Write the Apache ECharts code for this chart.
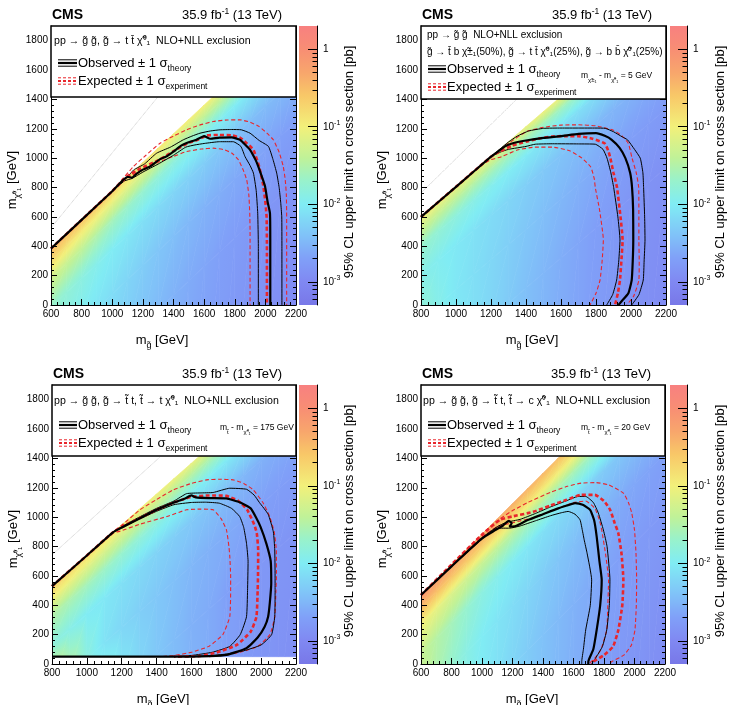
<!DOCTYPE html>
<html>
<head>
<meta charset="utf-8">
<script src="https://cdn.jsdelivr.net/npm/echarts@6.0.0/dist/echarts.min.js"></script>
<style>
html, body { margin: 0; padding: 0; background: #fff; }
#chart { width: 739px; height: 705px; }
</style>
</head>
<body>
<div id="chart"></div>
<script>
// ---- values ----
// heat map: log10 of the limit (pb), per gluino-mass column, at fixed distances (GeV) below the kinematic edge
const edgeOffsets = [0, 80, 200, 400, 700, 1100, 2300];

const p1Cols = [600, 700, 800, 900, 1000, 1100, 1200, 1300, 1400, 1500, 1600, 1700, 1800, 1900, 2000, 2100, 2200];
const p1Limit = [
  [-0.45, -0.5, -0.55, -0.62, -0.7, -0.78, -0.85, -0.9, -0.95, -0.98, -1.0, -1.02, -1.05, -1.05, -1.05, -1.05, -1.05],
  [-0.75, -0.85, -0.95, -1.02, -1.1, -1.17, -1.23, -1.28, -1.33, -1.37, -1.4, -1.43, -1.45, -1.47, -1.5, -1.5, -1.5],
  [-1.25, -1.33, -1.4, -1.5, -1.6, -1.67, -1.73, -1.79, -1.84, -1.88, -1.92, -1.96, -2.0, -2.05, -2.1, -2.12, -2.15],
  [-1.7, -1.78, -1.85, -1.93, -2.0, -2.06, -2.12, -2.17, -2.22, -2.26, -2.3, -2.35, -2.4, -2.43, -2.46, -2.48, -2.5],
  [-1.85, -1.93, -2.0, -2.08, -2.15, -2.22, -2.3, -2.37, -2.43, -2.49, -2.54, -2.58, -2.62, -2.65, -2.68, -2.7, -2.72],
  [-1.95, -2.05, -2.12, -2.2, -2.25, -2.32, -2.4, -2.47, -2.54, -2.6, -2.65, -2.7, -2.74, -2.78, -2.81, -2.84, -2.86],
  [-2.1, -2.2, -2.3, -2.38, -2.45, -2.52, -2.58, -2.63, -2.68, -2.73, -2.78, -2.83, -2.88, -2.92, -2.96, -2.99, -3.02]
];
const p2Cols = [800, 900, 1000, 1100, 1200, 1300, 1400, 1500, 1600, 1700, 1800, 1900, 2000, 2100, 2200];
const p2Limit = [
  [-1.0, -1.05, -1.08, -1.1, -1.1, -1.1, -1.08, -1.05, -1.05, -1.05, -1.05, -1.05, -1.05, -1.05, -1.05],
  [-1.3, -1.38, -1.43, -1.48, -1.52, -1.55, -1.58, -1.6, -1.62, -1.64, -1.66, -1.68, -1.7, -1.72, -1.74],
  [-1.7, -1.77, -1.83, -1.89, -1.94, -1.99, -2.03, -2.07, -2.1, -2.13, -2.16, -2.2, -2.24, -2.28, -2.32],
  [-1.9, -1.97, -2.04, -2.1, -2.16, -2.22, -2.28, -2.34, -2.39, -2.44, -2.48, -2.52, -2.55, -2.58, -2.6],
  [-1.78, -1.92, -2.05, -2.13, -2.2, -2.28, -2.36, -2.43, -2.5, -2.56, -2.62, -2.67, -2.72, -2.75, -2.78],
  [-1.7, -1.85, -2.0, -2.12, -2.22, -2.32, -2.42, -2.5, -2.58, -2.65, -2.72, -2.78, -2.83, -2.87, -2.9],
  [-1.7, -1.85, -2.0, -2.12, -2.25, -2.36, -2.46, -2.55, -2.63, -2.7, -2.77, -2.83, -2.88, -2.93, -2.97]
];
const p3Cols = [800, 900, 1000, 1100, 1200, 1300, 1400, 1500, 1600, 1700, 1800, 1900, 2000, 2100, 2200];
const p3Limit = [
  [-0.65, -0.75, -0.82, -0.88, -0.93, -0.98, -1.02, -1.05, -1.08, -1.1, -1.1, -1.1, -1.1, -1.1, -1.1],
  [-1.0, -1.08, -1.15, -1.22, -1.28, -1.33, -1.38, -1.43, -1.48, -1.52, -1.55, -1.58, -1.6, -1.62, -1.64],
  [-1.5, -1.55, -1.6, -1.66, -1.72, -1.78, -1.84, -1.9, -1.95, -2.0, -2.05, -2.1, -2.14, -2.18, -2.2],
  [-1.8, -1.9, -2.0, -2.05, -2.12, -2.18, -2.24, -2.29, -2.34, -2.39, -2.44, -2.5, -2.55, -2.58, -2.6],
  [-1.0, -1.4, -1.85, -2.1, -2.2, -2.28, -2.35, -2.42, -2.5, -2.55, -2.6, -2.65, -2.7, -2.73, -2.75],
  [-1.0, -1.2, -1.5, -1.7, -2.0, -2.2, -2.35, -2.45, -2.55, -2.6, -2.7, -2.75, -2.8, -2.83, -2.85],
  [-1.0, -1.2, -1.5, -1.7, -2.0, -2.2, -2.3, -2.4, -2.5, -2.6, -2.7, -2.8, -2.85, -2.9, -2.95]
];
const p4Cols = [600, 700, 800, 900, 1000, 1100, 1200, 1300, 1400, 1500, 1600, 1700, 1800, 1900, 2000, 2100, 2200];
const p4Limit = [
  [-0.15, -0.2, -0.25, -0.29, -0.32, -0.35, -0.38, -0.42, -0.45, -0.5, -0.55, -0.6, -0.65, -0.7, -0.7, -0.7, -0.7],
  [-0.45, -0.5, -0.55, -0.6, -0.65, -0.69, -0.72, -0.76, -0.8, -0.85, -0.9, -0.98, -1.05, -1.1, -1.15, -1.18, -1.2],
  [-1.0, -1.1, -1.2, -1.28, -1.35, -1.4, -1.45, -1.49, -1.52, -1.55, -1.57, -1.6, -1.65, -1.7, -1.75, -1.8, -1.85],
  [-1.35, -1.48, -1.6, -1.72, -1.85, -1.93, -2.0, -2.06, -2.12, -2.17, -2.22, -2.27, -2.32, -2.36, -2.4, -2.44, -2.48],
  [-1.35, -1.55, -1.72, -1.88, -2.0, -2.08, -2.15, -2.22, -2.3, -2.37, -2.43, -2.49, -2.55, -2.6, -2.64, -2.67, -2.7],
  [-1.35, -1.55, -1.75, -1.9, -2.02, -2.12, -2.22, -2.31, -2.4, -2.47, -2.54, -2.6, -2.66, -2.71, -2.75, -2.78, -2.81],
  [-1.35, -1.55, -1.75, -1.9, -2.05, -2.15, -2.25, -2.35, -2.45, -2.53, -2.61, -2.69, -2.76, -2.83, -2.88, -2.93, -2.97]
];

// kinematic edge of the scanned region (two points), dotted guide line
const p1Edge = [[600, 385], [1660, 1420]];
const p2Edge = [[800, 600], [1600, 1420]];
const p3Edge = [[800, 530], [1650, 1420]];
const p4Edge = [[600, 470], [1516, 1420]];
const p1Guide = [[600, 525], [1300, 1420]];
const p2Guide = [[800, 763], [1363, 1420]];
const p3Guide = [[800, 743], [1420, 1410]];

// exclusion contours
const p1Obs = [[600,385],[800,580],[1000,775],[1100,872],[1130,868],[1160,895],[1200,922],[1250,945],[1312,993],[1360,1015],[1400,1045],[1450,1085],[1490,1105],[1550,1125],[1600,1150],[1640,1132],[1700,1140],[1780,1142],[1834,1125],[1870,1090],[1900,1057],[1935,990],[1954,943],[1985,850],[1998,807],[2015,700],[2030,625],[2032,450],[2032,200],[2032,0]];
const p1ObsUp = [[600,385],[800,580],[1000,775],[1100,872],[1140,920],[1210,960],[1290,1034],[1380,1075],[1464,1125],[1520,1150],[1573,1170],[1640,1185],[1704,1193],[1780,1195],[1843,1193],[1900,1170],[1960,1120],[2020,1080],[2050,990],[2074,898],[2090,800],[2100,700],[2107,600],[2108,400],[2108,0]];
const p1ObsDown = [[600,385],[800,580],[1000,775],[1080,845],[1130,862],[1200,905],[1300,960],[1400,1020],[1480,1075],[1540,1090],[1600,1100],[1700,1112],[1791,1112],[1840,1080],[1867,1011],[1900,950],[1922,898],[1940,780],[1950,625],[1954,400],[1954,0]];
const p1Exp = [[600,385],[800,580],[1000,775],[1100,878],[1181,928],[1300,985],[1400,1048],[1500,1105],[1560,1125],[1617,1155],[1700,1158],[1780,1155],[1834,1140],[1880,1100],[1922,1057],[1960,940],[1985,820],[2000,700],[2008,600],[2010,400],[2010,0]];
const p1ExpUp = [[600,385],[800,580],[1000,780],[1060,850],[1140,945],[1220,1020],[1312,1102],[1400,1150],[1486,1193],[1570,1225],[1660,1250],[1750,1260],[1834,1261],[1900,1245],[1960,1215],[2010,1170],[2052,1125],[2090,1040],[2117,943],[2130,850],[2137,750],[2139,602],[2139,300],[2139,0]];
const p1ExpDown = [[600,385],[800,580],[1000,775],[1072,846],[1120,880],[1181,909],[1250,945],[1312,977],[1400,1012],[1486,1045],[1580,1062],[1660,1068],[1730,1058],[1780,1035],[1824,989],[1855,920],[1878,852],[1892,750],[1898,625],[1900,500],[1900,0]];

const p2Obs = [[800,600],[1000,805],[1200,1010],[1240,1045],[1280,1080],[1320,1100],[1400,1120],[1500,1138],[1600,1150],[1700,1165],[1800,1170],[1850,1152],[1890,1125],[1935,1070],[1968,1000],[1995,900],[2006,800],[2012,650],[2013,443],[2010,300],[2004,170],[1985,80],[1950,30],[1928,0]];
const p2ObsUp = [[800,600],[1000,805],[1200,1010],[1250,1061],[1300,1110],[1350,1150],[1415,1185],[1500,1203],[1600,1205],[1700,1205],[1800,1205],[1853,1203],[1900,1180],[1950,1145],[1980,1125],[2020,1060],[2053,1000],[2068,900],[2072,800],[2078,600],[2080,443],[2075,300],[2070,170],[2045,70],[2004,0]];
const p2ObsDown = [[800,600],[1000,805],[1200,1010],[1250,1040],[1300,1060],[1400,1080],[1453,1095],[1550,1098],[1700,1097],[1796,1095],[1840,1060],[1863,1000],[1885,900],[1901,800],[1925,600],[1937,443],[1930,300],[1918,170],[1895,70],[1861,0]];
const p2Exp = [[800,600],[1000,805],[1200,1010],[1250,1045],[1320,1085],[1400,1112],[1480,1135],[1550,1148],[1620,1150],[1700,1150],[1780,1132],[1850,1100],[1870,1050],[1882,1000],[1900,900],[1920,800],[1940,600],[1952,443],[1945,300],[1937,170],[1925,80],[1909,0]];
const p2ExpUp = [[800,600],[1000,805],[1200,1010],[1250,1050],[1300,1100],[1400,1180],[1500,1210],[1600,1225],[1700,1227],[1800,1220],[1900,1190],[1950,1150],[1985,1100],[2006,1000],[2030,900],[2044,800],[2045,600],[2045,443],[2047,300],[2045,170],[2015,60],[1975,0]];
const p2ExpDown = [[800,600],[1000,805],[1150,955],[1200,990],[1260,1010],[1350,1055],[1450,1075],[1550,1075],[1650,1050],[1720,1000],[1770,940],[1790,860],[1796,800],[1820,650],[1842,443],[1835,300],[1823,170],[1800,80],[1766,0]];

const p3Obs = [[800,530],[1000,739],[1150,897],[1200,930],[1300,990],[1400,1050],[1500,1100],[1560,1125],[1600,1148],[1625,1135],[1700,1130],[1800,1128],[1880,1100],[1940,1060],[1970,1000],[1996,936],[2030,820],[2055,700],[2058,550],[2050,420],[2040,322],[2020,254],[1980,180],[1916,108],[1801,62],[1700,53],[1600,50],[800,50]];
const p3ObsUp = [[800,530],[1000,739],[1150,897],[1200,935],[1300,1000],[1400,1060],[1500,1110],[1572,1160],[1650,1165],[1725,1168],[1820,1197],[1916,1190],[1960,1150],[1990,1100],[2040,1020],[2070,900],[2078,777],[2080,600],[2080,500],[2078,322],[2060,200],[2000,130],[1900,90],[1800,68],[1700,55],[1600,50]];
const p3ObsDown = [[800,530],[1000,739],[1150,897],[1200,925],[1300,985],[1400,1040],[1500,1085],[1600,1100],[1680,1102],[1760,1095],[1830,1060],[1877,1004],[1900,930],[1916,822],[1925,700],[1922,500],[1916,322],[1880,200],[1820,120],[1720,80],[1600,58],[1500,50]];
const p3Exp = [[800,530],[1000,739],[1150,897],[1200,935],[1300,992],[1400,1050],[1500,1100],[1600,1138],[1700,1148],[1800,1145],[1870,1110],[1920,1050],[1960,950],[1975,891],[1983,777],[1982,600],[1980,500],[1973,322],[1940,220],[1860,130],[1750,80],[1650,55],[1500,50]];
const p3ExpUp = [[800,530],[1000,739],[1150,897],[1200,945],[1305,1050],[1400,1120],[1496,1186],[1600,1230],[1687,1254],[1760,1258],[1840,1254],[1900,1230],[1954,1186],[2010,1100],[2049,1004],[2075,900],[2087,777],[2088,600],[2085,500],[2078,322],[2050,200],[1980,120],[1880,80],[1780,60],[1700,50]];
const p3ExpDown = [[800,530],[1000,739],[1150,890],[1191,905],[1305,952],[1458,1004],[1572,1050],[1650,1055],[1725,1050],[1770,990],[1801,914],[1815,800],[1820,736],[1825,600],[1825,500],[1820,322],[1780,200],[1700,120],[1600,80],[1500,58],[1420,50]];

const p4Obs = [[600,470],[800,665],[1000,855],[1090,913],[1140,945],[1175,975],[1195,960],[1180,935],[1220,940],[1300,980],[1400,1020],[1500,1060],[1560,1080],[1610,1096],[1660,1085],[1709,1050],[1735,980],[1752,868],[1770,700],[1785,573],[1775,400],[1752,232],[1730,100],[1697,16],[1697,0]];
const p4ObsUp = [[600,470],[800,668],[1000,860],[1100,935],[1160,965],[1250,985],[1350,1025],[1450,1070],[1550,1110],[1630,1141],[1680,1141],[1730,1100],[1763,1028],[1796,913],[1820,800],[1839,573],[1835,400],[1818,232],[1790,120],[1745,40],[1719,0]];
const p4ObsDown = [[600,470],[800,662],[1000,850],[1100,925],[1180,925],[1250,940],[1350,975],[1450,1010],[1520,1030],[1565,1039],[1610,1020],[1643,982],[1660,900],[1670,846],[1690,750],[1719,573],[1710,400],[1680,232],[1665,100],[1654,16],[1654,0]];
const p4Exp = [[600,470],[800,677],[1000,880],[1118,982],[1200,1005],[1335,1036],[1450,1080],[1555,1118],[1650,1152],[1740,1152],[1800,1110],[1840,1050],[1870,960],[1894,891],[1915,750],[1927,573],[1920,400],[1894,232],[1860,120],[1800,60],[1730,16],[1720,0]];
const p4ExpUp = [[600,470],[800,677],[1000,885],[1100,975],[1196,1042],[1300,1100],[1450,1170],[1560,1210],[1650,1232],[1750,1235],[1830,1220],[1927,1164],[1960,1100],[1982,1028],[2000,913],[2010,750],[2014,573],[2012,400],[2003,232],[1980,130],[1930,60],[1850,16],[1839,0]];
const p4ExpDown = [[600,470],[800,670],[1000,865],[1100,935],[1200,962],[1350,1000],[1450,1040],[1550,1080],[1600,1100],[1680,1110],[1740,1060],[1770,980],[1785,913],[1810,750],[1830,573],[1825,400],[1818,232],[1780,100],[1740,40],[1700,0]];

// colour bar labels (log10 pb)
const cbTicks = [-3, -2, -1, 0];

// ---- drawing ----
const FONT = '"Liberation Sans", Arial, Helvetica, sans-serif';
const RED = '#e8262c';
const LOG_MIN = -3.3, LOG_MAX = 0.3;

const palStops = [
  [-3.3, [120, 120, 232]],
  [-3.0, [128, 136, 242]],
  [-2.7, [128, 160, 248]],
  [-2.4, [128, 194, 248]],
  [-2.0, [128, 236, 244]],
  [-1.7, [152, 242, 204]],
  [-1.4, [192, 242, 152]],
  [-1.0, [242, 240, 122]],
  [-0.6, [248, 200, 104]],
  [-0.3, [248, 166, 108]],
  [0.0, [248, 142, 116]],
  [0.3, [248, 128, 128]]
];
function rgb(c) { return 'rgb(' + c.map(Math.round).join(',') + ')'; }
function palette(v) {
  if (v <= palStops[0][0]) return rgb(palStops[0][1]);
  for (let i = 1; i < palStops.length; i++) {
    if (v <= palStops[i][0]) {
      const a = palStops[i - 1], b = palStops[i];
      const t = (v - a[0]) / (b[0] - a[0]);
      return rgb(a[1].map((c, k) => c + (b[1][k] - c) * t));
    }
  }
  return rgb(palStops[palStops.length - 1][1]);
}

function edgeY(p, x) {
  const a = p.edge[0], b = p.edge[1];
  return a[1] + (x - a[0]) * (b[1] - a[1]) / (b[0] - a[0]);
}
// keep the part of a polygon above y = f
function clipFloor(poly, f) {
  const out = [];
  for (let i = 0; i < poly.length; i++) {
    const a = poly[i], b = poly[(i + 1) % poly.length];
    const ina = a[1] >= f, inb = b[1] >= f;
    if (ina) out.push(a);
    if (ina !== inb) {
      const t = (f - a[1]) / (b[1] - a[1]);
      out.push([a[0] + t * (b[0] - a[0]), f]);
    }
  }
  return out;
}

// one shaded triangle: corners in data space, values at the corners
function shadedTri(api, floor, c, v) {
  const poly = clipFloor(c, floor);
  if (poly.length < 3) return null;
  const P = c.map(q => api.coord(q));
  const e1x = P[1][0] - P[0][0], e1y = P[1][1] - P[0][1];
  const e2x = P[2][0] - P[0][0], e2y = P[2][1] - P[0][1];
  const dv1 = v[1] - v[0], dv2 = v[2] - v[0];
  const det = e1x * e2y - e1y * e2x;
  let fill;
  const gx = det ? (dv1 * e2y - dv2 * e1y) / det : 0;
  const gy = det ? (e1x * dv2 - e2x * dv1) / det : 0;
  const g2 = gx * gx + gy * gy;
  if (g2 < 1e-12) {
    fill = palette(v[0]);
  } else {
    const lo = Math.min(v[0], v[1], v[2]), hi = Math.max(v[0], v[1], v[2]);
    const stops = [];
    for (let k = 0; k <= 6; k++) stops.push({offset: k / 6, color: palette(lo + (hi - lo) * k / 6)});
    fill = {type: 'linear', global: true, colorStops: stops,
      x: P[0][0] + gx * (lo - v[0]) / g2, y: P[0][1] + gy * (lo - v[0]) / g2,
      x2: P[0][0] + gx * (hi - v[0]) / g2, y2: P[0][1] + gy * (hi - v[0]) / g2};
  }
  return {type: 'polygon', shape: {points: poly.map(q => api.coord(q))},
    style: {fill: fill, stroke: fill, lineWidth: 0.7}};
}

const panels = [
  {box: [51, 26, 245, 279], cbar: [299, 26, 18, 279], xMin: 600, floor: 0, cols: p1Cols, lim: p1Limit, edge: p1Edge, guide: p1Guide,
   curves: [p1ExpUp, p1ExpDown, p1ObsUp, p1ObsDown, p1Exp, p1Obs], boxH: 71, obsDy: 37, expDy: 55, symX: [7, 26], txtDx: 27,
   head: [[3, 15, '{h|pp → g̃ g̃, g̃ → t t̄ χ̃⁰₁  NLO+NLL exclusion}']], note: null},
  {box: [421, 26, 245, 279], cbar: [670, 26, 17, 279], xMin: 800, floor: 0, cols: p2Cols, lim: p2Limit, edge: p2Edge, guide: p2Guide,
   curves: [p2ExpUp, p2ExpDown, p2ObsUp, p2ObsDown, p2Exp, p2Obs], boxH: 73, obsDy: 43, expDy: 61, symX: [7, 25], txtDx: 26,
   head: [[6, 9, '{g|pp → g̃ g̃  NLO+NLL exclusion}'], [6, 26, '{g|g̃ → t̄ b χ̃±₁(50%), g̃ → t t̄ χ̃⁰₁(25%), g̃ → b b̄ χ̃⁰₁(25%)}']],
   note: [160, 50, '{n|m}{ns|χ̃±₁}{n| - m}{ns|χ̃⁰₁}{n| = 5 GeV}']},
  {box: [52, 385, 244, 279], cbar: [299, 385, 18, 279], xMin: 800, floor: 50, cols: p3Cols, lim: p3Limit, edge: p3Edge, guide: p3Guide,
   curves: [p3ExpUp, p3ExpDown, p3ObsUp, p3ObsDown, p3Exp, p3Obs], boxH: 71, obsDy: 40, expDy: 58, symX: [7, 25], txtDx: 26,
   head: [[2, 16, '{h|pp → g̃ g̃, g̃ → t̃ t, t̃ → t χ̃⁰₁  NLO+NLL exclusion}']],
   note: [168, 43, '{n|m}{ns|t̃}{n| - m}{ns|χ̃⁰₁}{n| = 175 GeV}']},
  {box: [421, 385, 244, 279], cbar: [670, 385, 17, 279], xMin: 600, floor: 0, cols: p4Cols, lim: p4Limit, edge: p4Edge, guide: null,
   curves: [p4ExpUp, p4ExpDown, p4ObsUp, p4ObsDown, p4Exp, p4Obs], boxH: 71, obsDy: 40, expDy: 58, symX: [7, 25], txtDx: 26,
   head: [[2, 16, '{h|pp → g̃ g̃, g̃ → t̃ t, t̃ → c χ̃⁰₁  NLO+NLL exclusion}']],
   note: [160, 43, '{n|m}{ns|t̃}{n| - m}{ns|χ̃⁰₁}{n| = 20 GeV}']}
];

const curveStyles = [
  {color: RED, width: 1.1, type: [4, 2.5]},
  {color: RED, width: 1.1, type: [4, 2.5]},
  {color: '#000', width: 1, type: 'solid'},
  {color: '#000', width: 1, type: 'solid'},
  {color: RED, width: 2.6, type: [4, 2.5]},
  {color: '#000', width: 2.2, type: 'solid'}
];

const tok = (size, extra) => Object.assign({fontSize: size, fontFamily: FONT, fill: '#000'}, extra || {});
const RICH = {
  h: tok(10.6, {lineHeight: 14}),
  g: tok(10, {lineHeight: 14}),
  L: tok(13, {lineHeight: 20}),
  Ls: tok(8.5, {verticalAlign: 'bottom'}),
  n: tok(8.5, {lineHeight: 14}),
  ns: tok(6, {verticalAlign: 'bottom'}),
  A: tok(13, {lineHeight: 20}),
  As: tok(9, {verticalAlign: 'bottom'}),
  B: tok(13, {lineHeight: 16}),
  Bs: tok(8.5, {verticalAlign: 'top'}),
  C: tok(13, {lineHeight: 16})
};

const grids = [], xAxes = [], yAxes = [], series = [], graphics = [];

function text(x, y, str, align, rot) {
  graphics.push({type: 'text', x: x, y: y, rotation: rot || 0, z: 120, silent: true,
    style: {legacy: false, text: str, rich: RICH, fill: '#000', font: '10px ' + FONT,
            align: align || 'left', verticalAlign: 'middle'}});
}
function seg(x1, y1, x2, y2, color, width, dash) {
  graphics.push({type: 'line', z: 120, silent: true, shape: {x1: x1, y1: y1, x2: x2, y2: y2},
    style: {stroke: color, lineWidth: width, lineDash: dash || null}});
}

const axisBase = {
  type: 'value', z: 10,
  axisLine: {show: true, onZero: false, lineStyle: {color: '#000', width: 1}},
  axisTick: {show: true, inside: true, length: 6, lineStyle: {color: '#000', width: 1}},
  minorTick: {show: true, splitNumber: 5, length: 3, lineStyle: {color: '#000', width: 1}},
  splitLine: {show: false}, minorSplitLine: {show: false}
};

const cbMinor = [];
for (let e = -4; e <= 0; e++) for (let k = 2; k <= 9; k++) {
  const v = Math.log10(k) + e;
  if (v > LOG_MIN && v < LOG_MAX) cbMinor.push(v);
}
const cbStops = [];
for (let k = 0; k <= 36; k++) {
  const v = LOG_MAX - (LOG_MAX - LOG_MIN) * k / 36;
  cbStops.push({offset: k / 36, color: palette(v)});
}

panels.forEach(p => {
  const [L, T, W, H] = p.box;
  const gi = grids.length;
  grids.push({left: L, top: T, width: W, height: H, outerBoundsMode: 'none'});
  const xi = xAxes.length;
  xAxes.push(Object.assign({}, axisBase, {gridIndex: gi, min: p.xMin, max: 2200, interval: 200, position: 'bottom',
    axisLabel: {color: '#000', fontSize: 10, fontFamily: FONT, margin: 4, formatter: v => String(v)}}));
  const yi = yAxes.length;
  yAxes.push(Object.assign({}, axisBase, {gridIndex: gi, min: 0, max: 1900, interval: 200, position: 'left',
    axisLabel: {color: '#000', fontSize: 10, fontFamily: FONT, margin: 3, showMaxLabel: false, formatter: v => String(v)}}));
  yAxes.push(Object.assign({}, axisBase, {gridIndex: gi, min: 0, max: 1900, interval: 200, position: 'right',
    axisLabel: {show: false}}));

  // heat map: quads between neighbouring columns and edge offsets, each split in two shaded triangles
  const cells = [];
  for (let i = 0; i < p.cols.length - 1; i++) {
    for (let j = 0; j < edgeOffsets.length - 1; j++) {
      cells.push([p.cols[i], p.cols[i + 1], edgeOffsets[j], edgeOffsets[j + 1],
        p.lim[j][i], p.lim[j][i + 1], p.lim[j + 1][i], p.lim[j + 1][i + 1]]);
    }
  }
  series.push({
    type: 'custom', xAxisIndex: xi, yAxisIndex: yi, clip: true, silent: true, z: 1, data: cells,
    renderItem: function (params, api) {
      const xa = api.value(0), xb = api.value(1), d0 = api.value(2), d1 = api.value(3);
      const c00 = [xa, edgeY(p, xa) - d0], c10 = [xb, edgeY(p, xb) - d0];
      const c01 = [xa, edgeY(p, xa) - d1], c11 = [xb, edgeY(p, xb) - d1];
      const v00 = api.value(4), v10 = api.value(5), v01 = api.value(6), v11 = api.value(7);
      const kids = [
        shadedTri(api, p.floor, [c00, c10, c01], [v00, v10, v01]),
        shadedTri(api, p.floor, [c10, c11, c01], [v10, v11, v01])
      ].filter(Boolean);
      return {type: 'group', children: kids};
    }
  });

  if (p.guide) {
    series.push({type: 'line', xAxisIndex: xi, yAxisIndex: yi, data: p.guide, showSymbol: false, symbol: 'none',
      silent: true, z: 2, lineStyle: {color: '#b8b8b8', width: 0.8, type: 'dotted'}});
  }
  p.curves.forEach((c, k) => {
    const s = curveStyles[k];
    series.push({type: 'line', xAxisIndex: xi, yAxisIndex: yi, data: c, showSymbol: false, symbol: 'none',
      smooth: 0.15, silent: true, z: 3 + k, lineStyle: {color: s.color, width: s.width, type: s.type}});
  });

  // colour bar
  const [cl, ct, cw, ch] = p.cbar;
  const cg = grids.length;
  grids.push({left: cl, top: ct, width: cw, height: ch, outerBoundsMode: 'none'});
  const cxi = xAxes.length;
  xAxes.push({gridIndex: cg, type: 'value', min: 0, max: 1, show: false});
  const cyi = yAxes.length;
  yAxes.push({gridIndex: cg, type: 'value', min: LOG_MIN, max: LOG_MAX, position: 'right', z: 10,
    axisLine: {show: true, onZero: false, lineStyle: {color: '#000', width: 1}},
    axisTick: {show: true, inside: true, length: 9, customValues: cbTicks, lineStyle: {color: '#000'}},
    splitLine: {show: false},
    axisLabel: {customValues: cbTicks, margin: 6, color: '#000', fontSize: 10, fontFamily: FONT,
      formatter: v => (v === 0 ? '1' : '{b|10}{s|' + v + '}'),
      rich: {b: {fontSize: 10, fontFamily: FONT, color: '#000', lineHeight: 14},
             s: {fontSize: 7, fontFamily: FONT, color: '#000', verticalAlign: 'top', lineHeight: 9}}}});
  yAxes.push({gridIndex: cg, type: 'value', min: LOG_MIN, max: LOG_MAX, position: 'right', z: 10,
    axisLine: {show: false, onZero: false},
    axisTick: {show: true, inside: true, length: 4.5, customValues: cbMinor, lineStyle: {color: '#000'}},
    axisLabel: {show: false}, splitLine: {show: false}});
  series.push({type: 'custom', xAxisIndex: cxi, yAxisIndex: cyi, silent: true, z: 1, data: [[0, 0]],
    renderItem: function (params, api) {
      const tl = api.coord([0, LOG_MAX]), br = api.coord([1, LOG_MIN]);
      return {type: 'rect', shape: {x: tl[0], y: tl[1], width: br[0] - tl[0], height: br[1] - tl[1]},
        style: {fill: {type: 'linear', x: 0, y: 0, x2: 0, y2: 1, colorStops: cbStops}}};
    }});

  // legend box
  graphics.push({type: 'rect', z: 100, silent: true, shape: {x: L, y: T, width: W, height: p.boxH},
    style: {fill: '#fff', stroke: '#000', lineWidth: 1.5}});
  p.head.forEach(h => text(L + h[0], T + h[1], h[2]));
  const yo = T + p.obsDy, ye = T + p.expDy, sx1 = L + p.symX[0], sx2 = L + p.symX[1];
  seg(sx1, yo - 3.2, sx2, yo - 3.2, '#000', 1);
  seg(sx1, yo, sx2, yo, '#000', 2.2);
  seg(sx1, yo + 3.2, sx2, yo + 3.2, '#000', 1);
  seg(sx1, ye - 3.2, sx2, ye - 3.2, RED, 1, [3, 2]);
  seg(sx1, ye, sx2, ye, RED, 2.2, [3, 2]);
  seg(sx1, ye + 3.2, sx2, ye + 3.2, RED, 1, [3, 2]);
  text(L + p.txtDx, yo, '{L|Observed ± 1 σ}{Ls|theory}');
  text(L + p.txtDx, ye, '{L|Expected ± 1 σ}{Ls|experiment}');
  if (p.note) text(L + p.note[0], T + p.note[1], p.note[2]);

  // titles
  graphics.push({type: 'text', x: L + 1, y: T - 11, z: 120, silent: true,
    style: {legacy: false, text: 'CMS', fill: '#000', font: 'bold 14px ' + FONT, align: 'left', verticalAlign: 'middle'}});
  text(L + W - 14, T - 11, '{B|35.9 fb}{Bs|-1}{B| (13 TeV)}', 'right');
  text(L + 111, T + 314, '{A|m}{As|g̃}{A| [GeV]}', 'center');
  text(L - 39, T + 154, '{A|m}{As|χ̃⁰₁}{A| [GeV]}', 'center', Math.PI / 2);
  text(cl + 50, T + 136, '{C|95% CL upper limit on cross section [pb]}', 'center', Math.PI / 2);
});

const chart = echarts.init(document.getElementById('chart'), null, {renderer: 'canvas'});
chart.setOption({
  animation: false,
  backgroundColor: '#fff',
  grid: grids,
  xAxis: xAxes,
  yAxis: yAxes,
  series: series,
  graphic: {elements: graphics}
});
</script>
</body>
</html>
